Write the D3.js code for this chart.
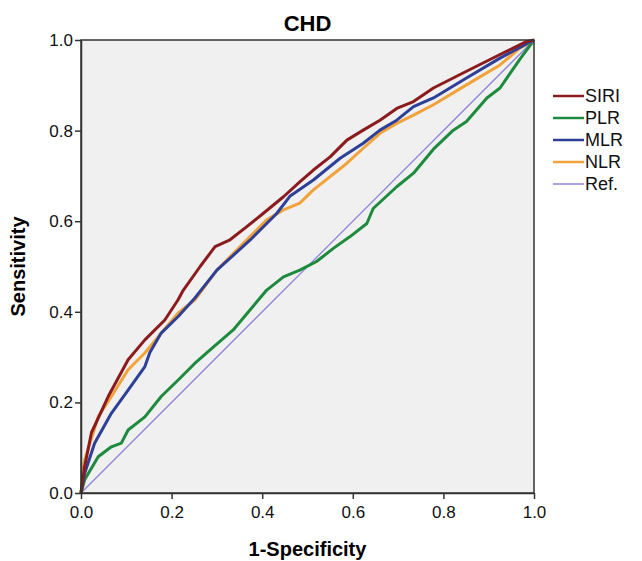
<!DOCTYPE html>
<html><head><meta charset="utf-8">
<script src="https://cdn.jsdelivr.net/npm/d3@7"></script>
<style>body{margin:0;background:#fff;} svg{display:block;font-family:"Liberation Sans",Arial,sans-serif;}</style>
</head><body><svg id="c" width="642" height="561"></svg>
<script>
const seriesNames = ["SIRI","PLR","MLR","NLR","Ref."];
const seriesColors = ["#8b1b1d","#1d8a3e","#2e3f98","#f2a23a","#8d86d6"];
const ticks = [0,0.2,0.4,0.6,0.8,1.0];
const siri = [[0,0],[0.008,0.058],[0.023,0.133],[0.06,0.213],[0.104,0.294],[0.141,0.338],[0.185,0.382],[0.214,0.426],[0.226,0.448],[0.263,0.5],[0.296,0.544],[0.329,0.559],[0.366,0.588],[0.402,0.617],[0.447,0.654],[0.483,0.687],[0.513,0.713],[0.55,0.742],[0.587,0.779],[0.623,0.801],[0.66,0.823],[0.697,0.849],[0.734,0.864],[0.778,0.894],[0.851,0.931],[0.925,0.968],[0.984,0.997],[1,1]];
const plr = [[0,0],[0.008,0.029],[0.038,0.08],[0.067,0.102],[0.089,0.11],[0.104,0.139],[0.141,0.168],[0.177,0.213],[0.214,0.249],[0.251,0.286],[0.285,0.316],[0.336,0.36],[0.373,0.404],[0.41,0.448],[0.447,0.477],[0.483,0.492],[0.52,0.511],[0.557,0.54],[0.594,0.566],[0.631,0.595],[0.645,0.628],[0.697,0.676],[0.734,0.706],[0.778,0.759],[0.822,0.801],[0.851,0.82],[0.896,0.872],[0.925,0.894],[0.969,0.958],[1,1]];
const mlr = [[0,0],[0.008,0.043],[0.03,0.11],[0.067,0.176],[0.104,0.227],[0.141,0.279],[0.152,0.31],[0.177,0.353],[0.214,0.389],[0.251,0.43],[0.3,0.492],[0.373,0.558],[0.432,0.617],[0.461,0.655],[0.513,0.691],[0.572,0.739],[0.623,0.772],[0.66,0.801],[0.697,0.823],[0.734,0.853],[0.778,0.872],[0.851,0.916],[0.925,0.96],[1,1]];
const nlr = [[0,0],[0.003,0.04],[0.008,0.073],[0.038,0.168],[0.067,0.213],[0.104,0.272],[0.141,0.309],[0.177,0.353],[0.214,0.397],[0.251,0.426],[0.3,0.492],[0.373,0.566],[0.41,0.603],[0.447,0.625],[0.483,0.64],[0.513,0.669],[0.587,0.728],[0.623,0.761],[0.66,0.794],[0.697,0.816],[0.734,0.834],[0.778,0.857],[0.851,0.901],[0.925,0.945],[0.969,0.982],[1,1]];
const ref = [[0,0],[1,1]];
const seriesData = [siri, plr, mlr, nlr, ref];

const svg = d3.select("#c");
const L = 81, R = 534, T = 40, B = 493;
const x = d3.scaleLinear().domain([0,1]).range([L,R]);
const y = d3.scaleLinear().domain([0,1]).range([B,T]);

svg.append("rect").attr("x",L).attr("y",T).attr("width",R-L).attr("height",B-T).attr("fill","#f0f0f0");

const line = d3.line().x(d=>x(d[0])).y(d=>y(d[1]));
const order = [4,1,3,2,0];
order.forEach(i=>{
  svg.append("path").datum(seriesData[i]).attr("d",line).attr("fill","none")
    .attr("stroke",seriesColors[i]).attr("stroke-width", i===4?1.3:3).attr("stroke-linejoin","round");
});

svg.append("rect").attr("x",L).attr("y",T).attr("width",R-L).attr("height",B-T).attr("fill","none").attr("stroke","#333").attr("stroke-width",1.5);

const xAxis = svg.append("g").attr("transform",`translate(0,${B})`)
  .call(d3.axisBottom(x).tickValues(ticks).tickFormat(d3.format(".1f")).tickSize(6).tickSizeOuter(0));
const yAxis = svg.append("g").attr("transform",`translate(${L},0)`)
  .call(d3.axisLeft(y).tickValues(ticks).tickFormat(d3.format(".1f")).tickSize(6).tickSizeOuter(0));
[xAxis,yAxis].forEach(g=>{
  g.select(".domain").attr("stroke","#333").attr("stroke-width",1.5);
  g.selectAll(".tick line").attr("stroke","#333").attr("stroke-width",1.5);
  g.selectAll(".tick text").attr("fill","#111").style("font-size","17px").style("font-family","Liberation Sans, Arial, sans-serif");
});
xAxis.selectAll(".tick text").attr("y",10).attr("dy","0.9em");
yAxis.selectAll(".tick text").attr("x",-8);

svg.append("text").attr("x",(L+R)/2).attr("y",31).attr("text-anchor","middle")
  .style("font-size","22px").style("font-weight","bold").text("CHD");
svg.append("text").attr("x",(L+R)/2).attr("y",556).attr("text-anchor","middle")
  .style("font-size","20px").style("font-weight","bold").text("1-Specificity");
svg.append("text").attr("transform",`translate(25,${(T+B)/2}) rotate(-90)`).attr("text-anchor","middle")
  .style("font-size","20px").style("font-weight","bold").text("Sensitivity");

const lg = svg.append("g");
seriesNames.forEach((n,i)=>{
  const yy = 96 + i*22;
  lg.append("line").attr("x1",553).attr("x2",584).attr("y1",yy).attr("y2",yy)
    .attr("stroke",seriesColors[i]).attr("stroke-width", i===4?1.5:2.5);
  lg.append("text").attr("x",585).attr("y",yy).attr("dy","0.36em")
    .style("font-size","18px").attr("fill","#111").text(n);
});
</script></body></html>
